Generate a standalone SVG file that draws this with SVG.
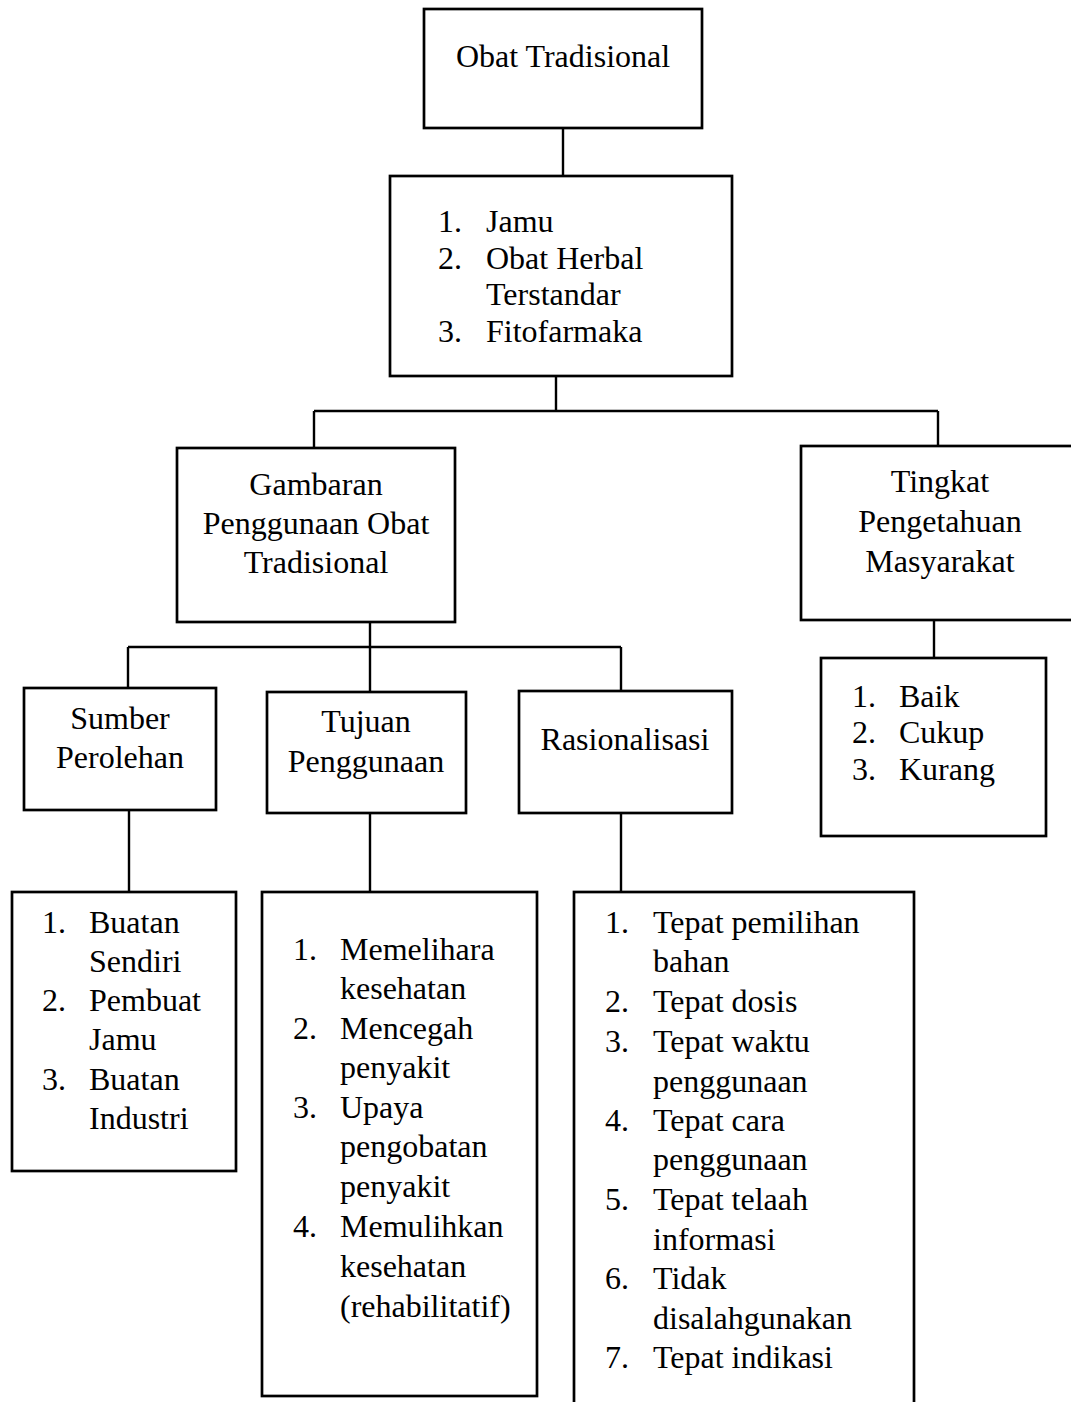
<svg xmlns="http://www.w3.org/2000/svg" width="1071" height="1402" viewBox="0 0 1071 1402">
<style>
.box{fill:#fff;stroke:#000;stroke-width:2.7}
.ln{fill:none;stroke:#000;stroke-width:2.4}
text{font-family:"Liberation Serif","Times New Roman",serif;font-size:32px;fill:#000}
.c{text-anchor:middle}
</style>
<rect width="1071" height="1402" fill="#fff"/>
<g id="connectors">
<path class="ln" d="M563 128V176"/>
<path class="ln" d="M556 376V411M314 411H938M314 411V448M938 411V446"/>
<path class="ln" d="M370 622V692M128 647H621M128 647V688M621 647V691"/>
<path class="ln" d="M934 620V658"/>
<path class="ln" d="M129 810V892M370 813V892M621 813V892"/>
</g>
<g id="obat-tradisional">
<rect class="box" x="424" y="9" width="278" height="119"/>
<text class="c" x="563" y="67">Obat Tradisional</text>
</g>
<g id="jenis">
<rect class="box" x="390" y="176" width="342" height="200"/>
<text x="438" y="232">1.</text><text x="486" y="232">Jamu</text>
<text x="438" y="269">2.</text><text x="486" y="269">Obat Herbal</text>
<text x="486" y="305">Terstandar</text>
<text x="438" y="342">3.</text><text x="486" y="342">Fitofarmaka</text>
</g>
<g id="gambaran">
<rect class="box" x="177" y="448" width="278" height="174"/>
<text class="c" x="316" y="495">Gambaran</text>
<text class="c" x="316" y="534">Penggunaan Obat</text>
<text class="c" x="316" y="573">Tradisional</text>
</g>
<g id="tingkat">
<rect class="box" x="801" y="446" width="278" height="174"/>
<text class="c" x="940" y="492">Tingkat</text>
<text class="c" x="940" y="532">Pengetahuan</text>
<text class="c" x="940" y="572">Masyarakat</text>
</g>
<g id="tingkat-items">
<rect class="box" x="821" y="658" width="225" height="178"/>
<text x="852" y="707">1.</text><text x="899" y="707">Baik</text>
<text x="852" y="743">2.</text><text x="899" y="743">Cukup</text>
<text x="852" y="780">3.</text><text x="899" y="780">Kurang</text>
</g>
<g id="sumber">
<rect class="box" x="24" y="688" width="192" height="122"/>
<text class="c" x="120" y="729">Sumber</text>
<text class="c" x="120" y="768">Perolehan</text>
</g>
<g id="tujuan">
<rect class="box" x="267" y="692" width="199" height="121"/>
<text class="c" x="366" y="732">Tujuan</text>
<text class="c" x="366" y="772">Penggunaan</text>
</g>
<g id="rasionalisasi">
<rect class="box" x="519" y="691" width="213" height="122"/>
<text class="c" x="625" y="750">Rasionalisasi</text>
</g>
<g id="sumber-items">
<rect class="box" x="12" y="892" width="224" height="279"/>
<text x="42" y="933">1.</text><text x="89" y="933">Buatan</text>
<text x="89" y="972">Sendiri</text>
<text x="42" y="1011">2.</text><text x="89" y="1011">Pembuat</text>
<text x="89" y="1050">Jamu</text>
<text x="42" y="1090">3.</text><text x="89" y="1090">Buatan</text>
<text x="89" y="1129">Industri</text>
</g>
<g id="tujuan-items">
<rect class="box" x="262" y="892" width="275" height="504"/>
<text x="293" y="960">1.</text><text x="340" y="960">Memelihara</text>
<text x="340" y="999">kesehatan</text>
<text x="293" y="1039">2.</text><text x="340" y="1039">Mencegah</text>
<text x="340" y="1078">penyakit</text>
<text x="293" y="1118">3.</text><text x="340" y="1118">Upaya</text>
<text x="340" y="1157">pengobatan</text>
<text x="340" y="1197">penyakit</text>
<text x="293" y="1237">4.</text><text x="340" y="1237">Memulihkan</text>
<text x="340" y="1277">kesehatan</text>
<text x="340" y="1317">(rehabilitatif)</text>
</g>
<g id="rasionalisasi-items">
<rect class="box" x="574" y="892" width="340" height="530"/>
<text x="605" y="933">1.</text><text x="653" y="933">Tepat pemilihan</text>
<text x="653" y="972">bahan</text>
<text x="605" y="1012">2.</text><text x="653" y="1012">Tepat dosis</text>
<text x="605" y="1052">3.</text><text x="653" y="1052">Tepat waktu</text>
<text x="653" y="1092">penggunaan</text>
<text x="605" y="1131">4.</text><text x="653" y="1131">Tepat cara</text>
<text x="653" y="1170">penggunaan</text>
<text x="605" y="1210">5.</text><text x="653" y="1210">Tepat telaah</text>
<text x="653" y="1250">informasi</text>
<text x="605" y="1289">6.</text><text x="653" y="1289">Tidak</text>
<text x="653" y="1329">disalahgunakan</text>
<text x="605" y="1368">7.</text><text x="653" y="1368">Tepat indikasi</text>
</g>
</svg>
